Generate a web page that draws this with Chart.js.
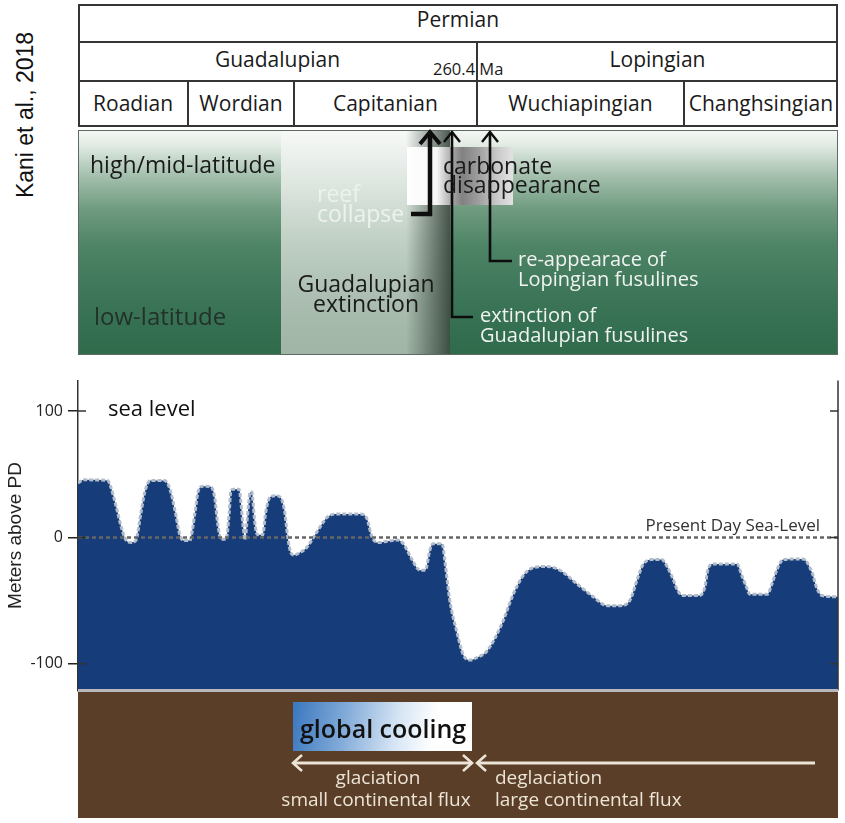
<!DOCTYPE html>
<html>
<head>
<meta charset="utf-8">
<script src="https://cdn.jsdelivr.net/npm/chart.js@4.4.1/dist/chart.umd.min.js"></script>
<style>
  body { margin: 0; background: #fff; }
  #fig { position: relative; width: 845px; height: 823px; overflow: hidden; font-family: 'Open Sans', sans-serif; }
  .abs { position: absolute; white-space: pre; }
  #sea { position: absolute; left: 0; top: 366px; width: 845px; height: 339px; }
</style>
</head>
<body>
<div id="fig">
  <div id="sea"><canvas id="sea-chart"></canvas></div>
</div>
<script>
/* ── Data ── */
const PERIOD        = 'Permian';
const EPOCHS        = ['Guadalupian', 'Lopingian'];
const EPOCH_BOUNDS  = [0, 52.5, 100];
const STAGES        = ['Roadian', 'Wordian', 'Capitanian', 'Wuchiapingian', 'Changhsingian'];
const STAGE_BOUNDS  = [0, 14.5, 28.4, 52.5, 79.7, 100];
const BOUNDARY_AGE  = '260.4 Ma';

// position along the section (% of width) and sea level (m above present day)
const POSITION = [
  0, 0.8, 3.9, 4.3, 5.0, 5.7, 6.3, 7.0, 7.6, 8.3, 8.8, 9.5, 11.4, 12.1, 12.8, 13.4, 13.9, 14.7,
  15.4, 15.8, 16.4, 17.5, 18.0, 18.4, 18.8, 19.5, 19.9, 20.1, 20.4, 21.2, 21.4, 21.7, 22.0, 22.2,
  22.5, 22.6, 22.9, 23.0, 23.3, 23.6, 24.3, 24.7, 25.3, 26.1, 26.8, 27.2, 27.6, 28.0, 28.4, 29.2,
  30.1, 31.4, 32.8, 34.1, 37.1, 38.0, 38.7, 39.5, 40.7, 42.0, 42.8, 43.9, 45.0, 45.7, 46.3, 46.7,
  47.9, 48.3, 48.9, 49.9, 50.7, 51.6, 52.5, 53.8, 55.8, 57.2, 58.6, 59.9, 61.7, 63.4, 65.7, 67.8,
  69.6, 71.3, 72.6, 73.6, 74.3, 75.5, 76.8, 77.6, 78.3, 78.9, 79.6, 81.8, 82.5, 82.9, 83.6, 86.7,
  87.4, 88.0, 88.4, 90.7, 91.3, 92.0, 92.8, 95.4, 96.6, 97.2, 97.9, 100,
];
const SEA_LEVEL = [
  43, 45.5, 45, 40, 25, 8, -2, -4, -2.5, 20, 36, 45, 45, 38, 20, 2, -2.5, -2.5,
  20, 36, 40.5, 40, 31, 10, -1.5, -1.5, 20, 36, 38, 38, 30, 10, -2, 10,
  30, 35, 36, 30, 10, 2, 2, 20, 32, 33, 30, 20, 0, -12, -14, -12,
  -8, 4, 16, 18.5, 18.5, 15, 0, -4, -3, -2, -5, -17, -26, -26, -10, -5,
  -5, -20, -49, -76, -93, -97, -95, -90, -68, -46, -30, -24, -23, -26, -37, -47,
  -54, -54, -50, -33, -22, -17.5, -17.5, -24, -33, -42, -46, -46, -39, -25, -21, -21,
  -31, -40, -45, -45, -37, -25, -17.5, -17, -28, -40, -46, -47,
];
const Y_TICKS = [100, 0, -100];

/* ── Constants ── */
const NAVY    = '#163d7a';
const OUTLINE = '#b3bdcc';
const INK     = '#1a1a1a';
const CREAM   = '#ece4d6';
const LEFT = 78, WIDTH = 760;
const px = p => LEFT + p * WIDTH / 100;

const fig = document.getElementById('fig');

/* ── Layout helpers ── */
function box(left, top, w, h, css) {
  const el = document.createElement('div');
  el.className = 'abs';
  Object.assign(el.style, { left: left + 'px', top: top + 'px', width: w + 'px', height: h + 'px', boxSizing: 'border-box' }, css);
  fig.appendChild(el);
  return el;
}

// text placed by its baseline
function label(str, x, base, size, opt = {}) {
  const el = document.createElement('div');
  el.className = 'abs';
  el.textContent = str;
  const lib = opt.family === 'lib';
  const k = lib ? 0.3465 : 0.388;
  Object.assign(el.style, {
    left: x + 'px',
    top: (base - size / 2 - k * size) + 'px',
    fontSize: size + 'px',
    lineHeight: size + 'px',
    color: opt.color || INK,
    fontFamily: lib ? "'Liberation Sans', Arial, sans-serif" : "'Open Sans', sans-serif",
    fontWeight: opt.weight || 400,
  });
  if (opt.align === 'center') el.style.transform = 'translateX(-50%)';
  if (opt.align === 'right')  el.style.transform = 'translateX(-100%)';
  fig.appendChild(el);
  return el;
}

/* ── Citation ── */
const cite = label('Kani et al., 2018', 24.5, 0, 23, { family: 'lib', color: '#111' });
Object.assign(cite.style, { top: '115px', transform: 'translate(-50%,-50%) rotate(-90deg)' });

/* ── Time-scale table ── */
const LINE = '#353535';
box(LEFT, 4, WIDTH, 123, { border: '2px solid ' + LINE });
box(LEFT, 41, WIDTH, 2, { background: LINE });
box(LEFT, 80, WIDTH, 2, { background: LINE });
box(px(EPOCH_BOUNDS[1]) - 1, 42, 1.5, 85, { background: LINE });
STAGE_BOUNDS.slice(1, -1).forEach(b => {
  if (b !== EPOCH_BOUNDS[1]) box(px(b) - 1, 81, 2, 46, { background: LINE });
});

label(PERIOD, px(50), 28, 21, { align: 'center' });
EPOCHS.forEach((e, i) => label(e, (px(EPOCH_BOUNDS[i]) + px(EPOCH_BOUNDS[i + 1])) / 2, 68, 21, { align: 'center' }));
STAGES.forEach((s, i) => label(s, (px(STAGE_BOUNDS[i]) + px(STAGE_BOUNDS[i + 1])) / 2, 112, 21, { align: 'center' }));
label(BOUNDARY_AGE, px(EPOCH_BOUNDS[1]) - 44, 76, 16.5);

/* ── Biotic / carbonate panel ── */
box(LEFT, 130, WIDTH, 225, {
  border: '1px solid #5d6b62',
  background: 'linear-gradient(to bottom, #f4f7f4 0px, #e2ebe4 14px, #a9c3b1 42px, #6f9b80 78px, #4e8466 115px, #3c7558 165px, #2f6a4b 225px)',
});
box(281, 131, 169, 223, {
  background: 'linear-gradient(to right, rgba(45,60,50,0) 0px, rgba(45,60,50,0) 125px, rgba(45,60,50,0.85) 169px),' +
              'linear-gradient(to bottom, #f7f9f7 0px, #dfe7e1 50px, #c0d0c4 110px, #aabdb0 170px, #a0b5a6 223px)',
});
box(407, 147, 106, 58, {
  background: 'linear-gradient(to right, #ffffff 0%, #f6f6f6 28%, #a9a9a9 42%, #818181 52%, #9b9b9b 66%, #c9c9c9 85%, #e2e2e2 100%)',
});

const svgNS = 'http://www.w3.org/2000/svg';
const svg = document.createElementNS(svgNS, 'svg');
svg.setAttribute('width', 845);
svg.setAttribute('height', 823);
svg.setAttribute('class', 'abs');
svg.style.left = '0px';
svg.style.top = '0px';
function poly(points, stroke, width) {
  const p = document.createElementNS(svgNS, 'polyline');
  p.setAttribute('points', points);
  p.setAttribute('fill', 'none');
  p.setAttribute('stroke', stroke);
  p.setAttribute('stroke-width', width);
  p.setAttribute('stroke-linejoin', 'miter');
  svg.appendChild(p);
}
// reef collapse (thick)
poly('411,214 430,214 430,133', '#0d0d0d', 4.5);
poly('420,144 430,132 440,144', '#0d0d0d', 4);
// extinction of Guadalupian fusulines
poly('473,317 452,317 452,133', '#0d0d0d', 2.6);
poly('444,142 452,132 460,142', '#0d0d0d', 2.4);
// re-appearance of Lopingian fusulines
poly('512,261 490,261 490,133', '#0d0d0d', 2.6);
poly('482,142 490,132 498,142', '#0d0d0d', 2.4);
// bottom arrows
poly('302,755 293,763 302,771', CREAM, 2.6);
poly('293,763 472,763', CREAM, 3);
poly('463,755 472,763 463,771', CREAM, 2.6);
poly('486,755 477,763 486,771', CREAM, 2.6);
poly('477,763 815,763', CREAM, 3);
fig.appendChild(svg);

label('high/mid-latitude', 90, 173, 23);
label('low-latitude', 94, 325, 24, { color: '#22322a' });
label('reef', 317, 202, 23, { color: '#eef2ee' });
label('collapse', 317, 222, 23, { color: '#eef2ee' });
label('Guadalupian', 366, 292, 23, { align: 'center' });
label('extinction', 366, 312, 23, { align: 'center' });
label('carbonate', 443, 174, 23);
label('disappearance', 443, 193, 23);
label('re-appearace of', 518, 267, 20, { color: '#f0f3f0' });
label('Lopingian fusulines', 518, 287, 20, { color: '#f0f3f0' });
label('extinction of', 480, 323, 20, { color: '#f0f3f0' });
label('Guadalupian fusulines', 480, 343, 20, { color: '#f0f3f0' });

/* ── Climate panel ── */
const climate = box(LEFT, 689, WIDTH, 129, { background: '#5a3e27', borderTop: '3px solid #b9b9b9' });
fig.insertBefore(climate, svg);
const cool = box(293, 702, 179, 49, {
  background: 'linear-gradient(100deg, #3a77bf 0%, #7ea8d7 28%, #d6e5f4 58%, #ffffff 78%)',
});
fig.insertBefore(cool, svg);
label('global cooling', 300, 738, 25, { weight: 600, color: '#111' });
label('glaciation', 378, 785, 19, { align: 'center', color: CREAM });
label('small continental flux', 376, 807, 19, { align: 'center', color: CREAM });
label('deglaciation', 495, 785, 19, { color: CREAM });
label('large continental flux', 495, 807, 19, { color: CREAM });

/* ── Sea-level annotations ── */
const seaPlugin = {
  id: 'seaLabels',
  afterDatasetsDraw(chart) {
    const { ctx, chartArea: a, scales: { y } } = chart;
    const y0 = y.getPixelForValue(0);
    ctx.save();

    ctx.strokeStyle = '#666';
    ctx.lineWidth   = 2.5;
    ctx.setLineDash([4, 3]);
    ctx.beginPath();
    ctx.moveTo(a.left, y0);
    ctx.lineTo(a.right, y0);
    ctx.stroke();
    ctx.setLineDash([]);

    ctx.strokeStyle = '#333';
    ctx.lineWidth   = 1.5;
    ctx.beginPath();
    ctx.moveTo(a.right, a.top);
    ctx.lineTo(a.right, a.bottom);
    Y_TICKS.forEach(v => {
      const py = y.getPixelForValue(v);
      ctx.moveTo(a.left, py);
      ctx.lineTo(a.left + 8, py);
      ctx.moveTo(a.right - 8, py);
      ctx.lineTo(a.right, py);
    });
    ctx.stroke();

    ctx.textBaseline = 'alphabetic';
    ctx.fillStyle = '#111';
    ctx.font      = "22px 'Open Sans'";
    ctx.textAlign = 'left';
    ctx.fillText('sea level', a.left + 30, y.getPixelForValue(100) + 5);

    ctx.fillStyle = '#333';
    ctx.font      = "17px 'Open Sans'";
    ctx.textAlign = 'right';
    ctx.fillText('Present Day Sea-Level', a.right - 18, y0 - 6);
    ctx.restore();
  },
};

/* ── Sea-level chart ── */
new Chart(document.getElementById('sea-chart'), {
  type: 'line',
  plugins: [seaPlugin],
  data: {
    datasets: [{
      data:                   POSITION.map((x, i) => ({ x, y: SEA_LEVEL[i] })),
      fill:                   'start',
      backgroundColor:        NAVY,
      borderColor:            OUTLINE,
      borderWidth:            3,
      borderDash:             [4, 2],
      pointRadius:            0,
      cubicInterpolationMode: 'monotone',
    }],
  },
  options: {
    responsive:          true,
    maintainAspectRatio: false,
    animation:           false,
    layout: { padding: { top: 10, right: 7, bottom: 3, left: 0 } },
    plugins: {
      legend:  { display: false },
      tooltip: { enabled: false },
    },
    scales: {
      x: { type: 'linear', min: 0, max: 100, display: false },
      y: {
        min: -121,
        max: 124,
        afterFit:        s => { s.width = LEFT; },
        afterBuildTicks: s => { s.ticks = Y_TICKS.map(v => ({ value: v })); },
        grid:   { drawOnChartArea: false, tickLength: 10, color: '#222', lineWidth: 1.5 },
        border: { color: '#333', width: 1.5 },
        ticks:  { color: '#222', padding: 5, font: { family: 'Open Sans', size: 16 } },
        title: {
          display: true,
          text:    'Meters above PD',
          color:   '#222',
          padding: { top: 4, bottom: 0 },
          font:    { family: 'Liberation Sans', size: 19 },
        },
      },
    },
  },
});
</script>
</body>
</html>
